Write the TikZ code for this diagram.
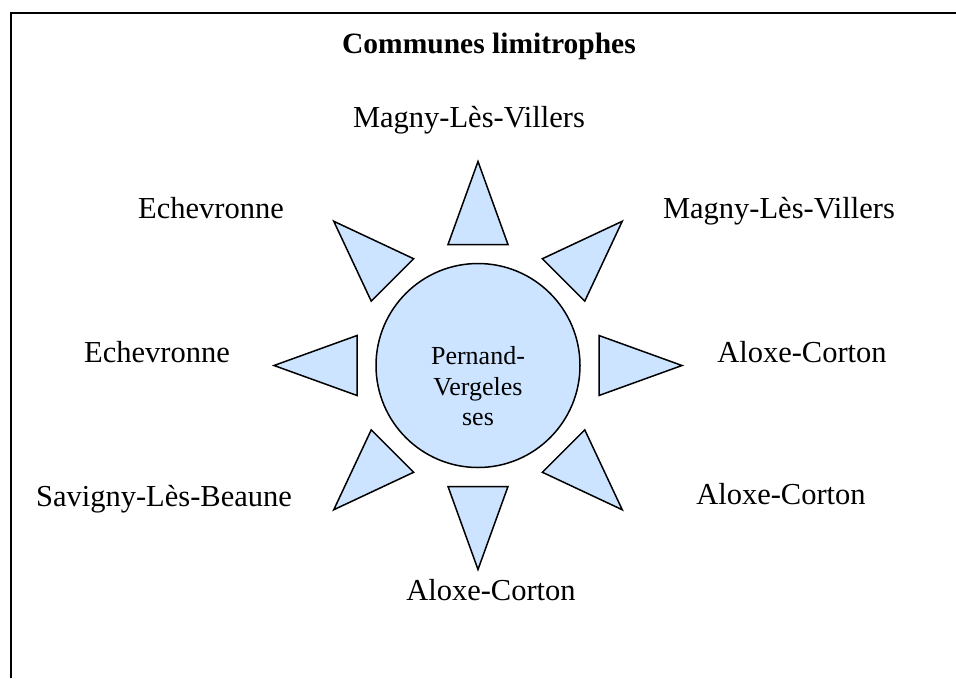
\documentclass[tikz,border=0pt]{standalone}
\usepackage{fontspec}
\setmainfont{Liberation Serif}
\definecolor{skyfill}{RGB}{204,228,255}
\begin{document}
\begin{tikzpicture}[x=1pt,y=-1pt,
  ray/.style={draw=black, fill=skyfill, line width=1.5pt, line join=miter},
  hubstyle/.style={circle, draw=black, fill=skyfill, line width=1.5pt, minimum size=204pt, inner sep=0pt},
  commune/.style={anchor=base, inner sep=0pt, font=\fontsize{30.5}{36}\selectfont},
  hubtext/.style={anchor=base, inner sep=0pt, font=\fontsize{26}{30}\selectfont},
  heading/.style={anchor=base, inner sep=0pt, font=\fontsize{29.5}{36}\selectfont\bfseries}]
\useasboundingbox (0,0) rectangle (956,678);

% open frame: left and top edges
\draw[line width=2pt] (10.5,678) -- (10.5,12.5) -- (956,12.5);

\node[heading] (title) at (489,53) {Communes limitrophes};

% central commune
\coordinate (c) at (478,365.5);
\node[hubstyle] (hub) at (c) {};
\node[hubtext] (hub1) at (478,364) {Pernand-};
\node[hubtext] (hub2) at (478,395) {Vergeles};
\node[hubtext] (hub3) at (478,425) {ses};

% eight rays around the centre
\foreach \a in {0,45,...,315} {
  \draw[ray, shift={(c)}] (\a:204) -- ({\a+13.92}:124.66) -- ({\a-13.92}:124.66) -- cycle;
}

% neighbouring communes
\node[commune] (n)  at (469,127) {Magny-Lès-Villers};
\node[commune] (ne) at (779,218) {Magny-Lès-Villers};
\node[commune] (e)  at (802,362) {Aloxe-Corton};
\node[commune] (se) at (781,504) {Aloxe-Corton};
\node[commune] (s)  at (491,600) {Aloxe-Corton};
\node[commune] (sw) at (164,506) {Savigny-Lès-Beaune};
\node[commune] (w)  at (157,362) {Echevronne};
\node[commune] (nw) at (211,218) {Echevronne};
\end{tikzpicture}
\end{document}
